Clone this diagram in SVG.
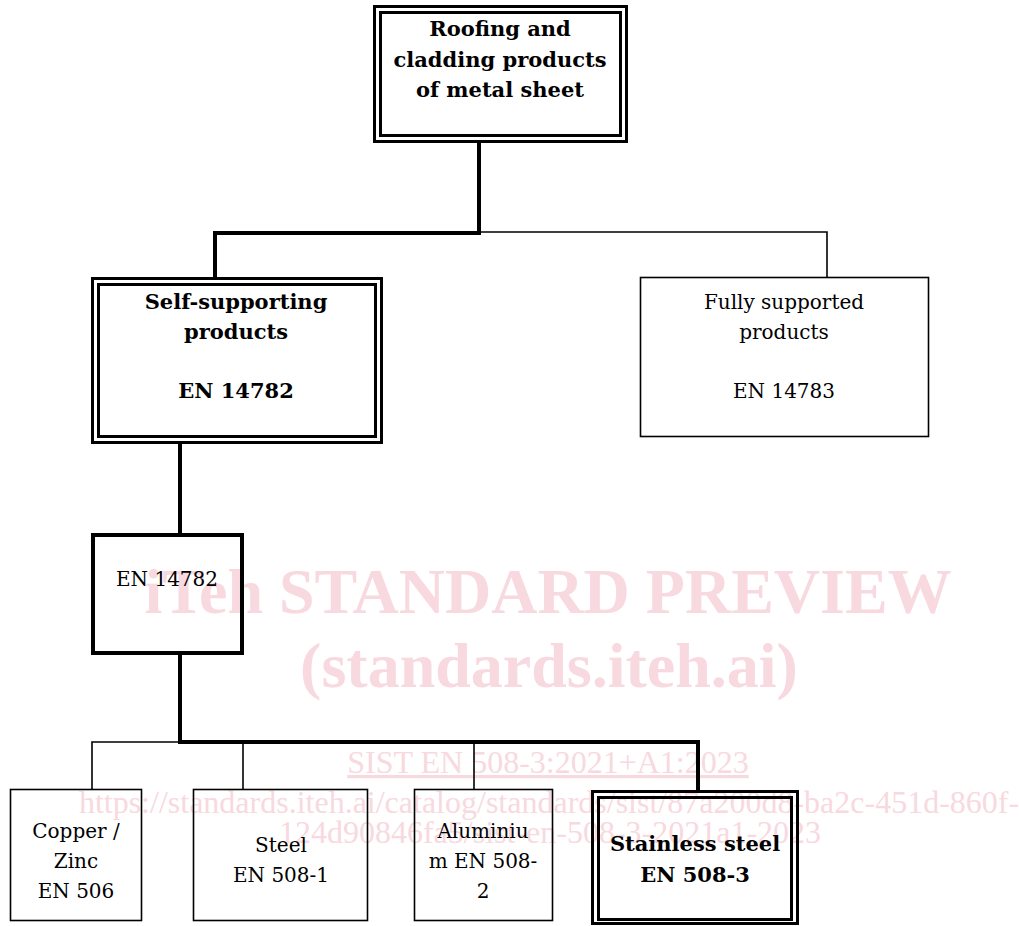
<svg xmlns="http://www.w3.org/2000/svg" width="1019" height="926" viewBox="0 0 1019 926">
<style>
.wm{fill:#f8d9e0;font-family:"Liberation Serif",serif}
.wmb{font-weight:bold}
.b{font-family:"DejaVu Serif",serif;font-weight:bold;font-size:21px;fill:#000;text-anchor:middle}
.r{font-family:"DejaVu Serif",serif;font-size:20px;fill:#000;text-anchor:middle}
.thin{fill:none;stroke:#000;stroke-width:1.6}
.dbl{fill:none;stroke:#000;stroke-width:3}
.thick{fill:none;stroke:#000;stroke-width:4}
.c-thick{fill:none;stroke:#000;stroke-width:4;stroke-linejoin:miter}
.c-thin{fill:none;stroke:#000;stroke-width:1.6}
</style>
<rect width="1019" height="926" fill="#fff"/>
<g id="watermark">
<text class="wm wmb" x="548" y="613" font-size="64" text-anchor="middle">iTeh STANDARD PREVIEW</text>
<text class="wm wmb" x="549" y="687" font-size="64" text-anchor="middle">(standards.iteh.ai)</text>
<text class="wm" x="548" y="773" font-size="32" text-anchor="middle" text-decoration="underline">SIST EN 508-3:2021+A1:2023</text>
<text class="wm" x="549" y="813" font-size="32" text-anchor="middle">https://standards.iteh.ai/catalog/standards/sist/87a200d8-ba2c-451d-860f-</text>
<text class="wm" x="550" y="843" font-size="32" text-anchor="middle">124d90846fa5/sist-en-508-3-2021a1-2023</text>
</g>
<g id="connectors">
<polyline class="c-thick" points="479,143 479,233 215,233 215,278"/>
<polyline class="c-thin" points="479,232 827,232 827,277"/>
<line class="c-thick" x1="180" y1="443" x2="180" y2="534"/>
<polyline class="c-thick" points="180,653 180,742 698,742 698,791"/>
<polyline class="c-thin" points="180,742 92,742 92,789"/>
<line class="c-thin" x1="243" y1="742" x2="243" y2="789"/>
<line class="c-thin" x1="474" y1="742" x2="474" y2="789"/>
</g>
<g id="node-roofing">
<rect class="dbl" x="374.5" y="6.5" width="252" height="135"/>
<rect class="dbl" x="380.5" y="12.5" width="240" height="123"/>
<text class="b" x="500" y="36">Roofing and</text>
<text class="b" x="500" y="67">cladding products</text>
<text class="b" x="500" y="97">of metal sheet</text>
</g>
<g id="node-self-supporting">
<rect class="dbl" x="92.5" y="278.5" width="289" height="164"/>
<rect class="dbl" x="98.5" y="284.5" width="277" height="152"/>
<text class="b" x="236" y="309">Self-supporting</text>
<text class="b" x="236" y="339">products</text>
<text class="b" x="236" y="398">EN 14782</text>
</g>
<g id="node-fully-supported">
<rect class="thin" x="640.5" y="277.5" width="288" height="159"/>
<text class="r" x="784" y="309">Fully supported</text>
<text class="r" x="784" y="339">products</text>
<text class="r" x="784" y="398">EN 14783</text>
</g>
<g id="node-en14782">
<rect class="thick" x="93" y="535" width="149" height="118"/>
<text class="r" x="167" y="586">EN 14782</text>
</g>
<g id="node-copper">
<rect class="thin" x="10.5" y="789.5" width="131" height="131"/>
<text class="r" x="76" y="838">Copper /</text>
<text class="r" x="76" y="868">Zinc</text>
<text class="r" x="76" y="898">EN 506</text>
</g>
<g id="node-steel">
<rect class="thin" x="193.5" y="789.5" width="174" height="131"/>
<text class="r" x="281" y="852">Steel</text>
<text class="r" x="281" y="882">EN 508-1</text>
</g>
<g id="node-aluminium">
<rect class="thin" x="414.5" y="789.5" width="138" height="131"/>
<text class="r" x="483" y="838">Aluminiu</text>
<text class="r" x="483" y="868">m EN 508-</text>
<text class="r" x="483" y="898">2</text>
</g>
<g id="node-stainless">
<rect class="dbl" x="592.5" y="791.5" width="205" height="132"/>
<rect class="dbl" x="598.5" y="797.5" width="193" height="122"/>
<text class="b" x="695" y="851">Stainless steel</text>
<text class="b" x="695" y="882">EN 508-3</text>
</g>
</svg>
